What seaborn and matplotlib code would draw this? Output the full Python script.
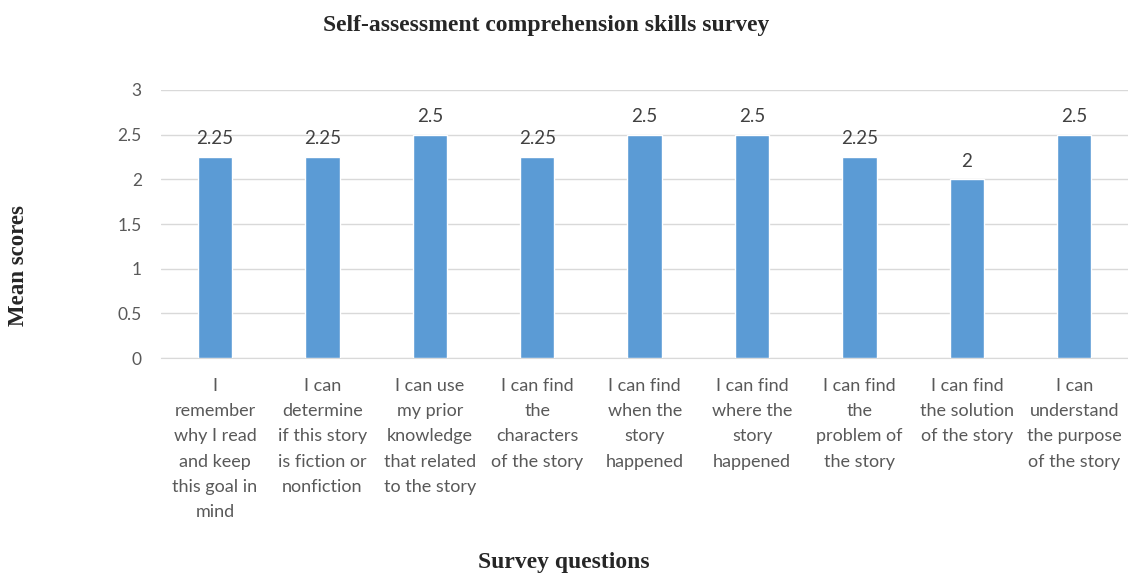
import matplotlib
matplotlib.use("Agg")
import matplotlib.pyplot as plt
import seaborn as sns
import pandas as pd

preguntas = [
    "I\nremember\nwhy I read\nand keep\nthis goal in\nmind",
    "I can\ndetermine\nif this story\nis fiction or\nnonfiction",
    "I can use\nmy prior\nknowledge\nthat related\nto the story",
    "I can find\nthe\ncharacters\nof the story",
    "I can find\nwhen the\nstory\nhappened",
    "I can find\nwhere the\nstory\nhappened",
    "I can find\nthe\nproblem of\nthe story",
    "I can find\nthe solution\nof the story",
    "I can\nunderstand\nthe purpose\nof the story",
]
medias = [2.25, 2.25, 2.5, 2.25, 2.5, 2.5, 2.25, 2.0, 2.5]
etiquetas = ["2.25", "2.25", "2.5", "2.25", "2.5", "2.5", "2.25", "2", "2.5"]
yticks = [0, 0.5, 1, 1.5, 2, 2.5, 3]

df = pd.DataFrame({"pregunta": preguntas, "media": medias})

sns.set_style("white")
plt.rcParams['font.family'] = ['Lato', 'DejaVu Sans']

fig = plt.figure(figsize=(11.28, 5.73), dpi=100)
ax = fig.add_axes([0.143, 0.375, 0.857, 0.468])

sns.barplot(data=df, x="pregunta", y="media", color="#5B9BD5", width=0.32,
            saturation=1, ax=ax, zorder=3)

for i, (v, t) in enumerate(zip(medias, etiquetas)):
    ax.text(i, v + 0.11, t, ha="center", va="bottom", fontsize=13.5, color="#404040")

ax.set_ylim(0, 3)
ax.set_xlim(-0.5, len(preguntas) - 0.5)
ax.set_yticks(yticks)
ax.set_yticklabels([f"{y:g}" for y in yticks], fontsize=12.5, color="#595959")
ax.tick_params(axis="y", length=0, pad=14)
ax.tick_params(axis="x", length=0, pad=14)
plt.setp(ax.get_xticklabels(), fontsize=13, color="#595959", linespacing=1.72,
         ha="center", va="top")
ax.grid(axis="y", color="#d9d9d9", linewidth=1, zorder=0)
for s in ["top", "right", "left"]:
    ax.spines[s].set_visible(False)
ax.spines["bottom"].set_color("#d9d9d9")
ax.set_xlabel("")
ax.set_ylabel("")

fig.text(0.484, 0.955, "Self-assessment comprehension skills survey", ha="center",
         va="center", fontsize=17, fontweight="bold", family="Liberation Serif")
fig.text(0.016, 0.537, "Mean scores", ha="center", va="center", rotation=90,
         fontsize=16.5, fontweight="bold", family="Liberation Serif")
fig.text(0.5, 0.019, "Survey questions", ha="center", va="center",
         fontsize=17, fontweight="bold", family="Liberation Serif")

fig.savefig("out.png", dpi=100)
